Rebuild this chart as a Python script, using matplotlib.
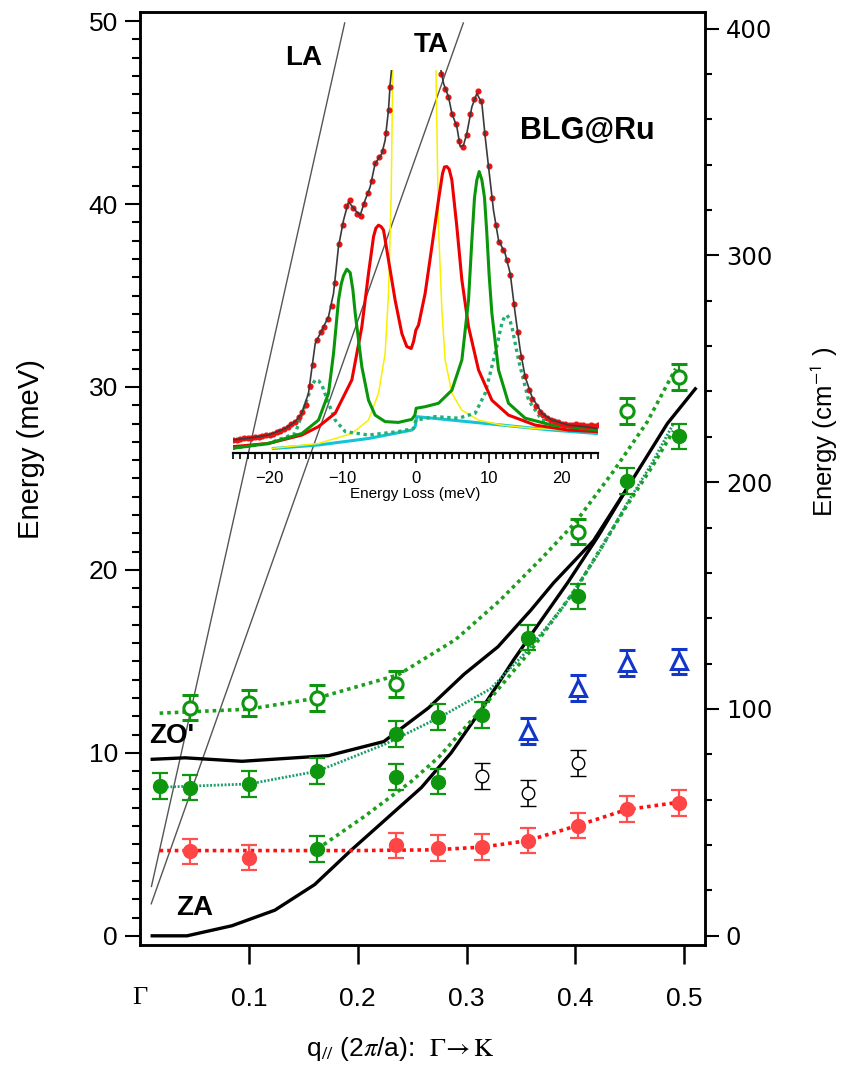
import matplotlib.pyplot as plt
import numpy as np
from matplotlib.ticker import MultipleLocator

plt.rcParams['font.family'] = ['Liberation Sans', 'DejaVu Sans']
plt.rcParams['mathtext.fontset'] = 'stix'

nan = np.nan
MEV_TO_CM = 8.0655
ERR = 0.7  # error bar half width (meV)

# ---------------- dispersion data, q in 2pi/a, E in meV ----------------
q_open = [0.046, 0.100, 0.163, 0.235, 0.402, 0.447, 0.495]
e_open = [12.48, 12.71, 12.99, 13.77, 22.1, 28.7, 30.55]

q_fill = [0.018, 0.046, 0.100, 0.163, 0.235, 0.274, 0.314, 0.356, 0.402, 0.447, 0.495]
e_fill = [8.2, 8.1, 8.29, 9.02, 11.04, 11.95, 12.08, 16.3, 18.55, 24.85, 27.3]

q_fill_low = [0.163, 0.235, 0.274]
e_fill_low = [4.74, 8.67, 8.43]

q_red = [0.046, 0.100, 0.235, 0.274, 0.314, 0.356, 0.402, 0.447, 0.495]
e_red = [4.61, 4.28, 4.94, 4.79, 4.85, 5.2, 6.03, 6.92, 7.25]

q_tri = [0.356, 0.402, 0.447, 0.495]
e_tri = [11.2, 13.55, 14.9, 15.0]

q_blk = [0.314, 0.356, 0.402]
e_blk = [8.75, 7.8, 9.45]

# guide-to-the-eye dotted curves
q_up_fit = [0.018, 0.100, 0.163, 0.237, 0.290, 0.330, 0.370, 0.400, 0.435, 0.466, 0.492]
e_up_fit = [12.17, 12.39, 13.0, 14.26, 16.2, 18.3, 20.7, 22.6, 25.4, 28.1, 31.0]

q_mid_fit = [0.018, 0.100, 0.163, 0.226, 0.277, 0.322, 0.356, 0.389, 0.420, 0.447, 0.470, 0.490]
e_mid_fit = [8.12, 8.3, 9.0, 10.5, 12.0, 13.5, 15.6, 18.0, 20.8, 23.6, 25.8, 28.0]

q_low_fit = [0.163, 0.206, 0.249, 0.275, 0.313, 0.359, 0.402, 0.447, 0.470, 0.490]
e_low_fit = [4.75, 6.52, 8.43, 9.8, 12.35, 15.6, 19.1, 23.5, 25.6, 27.6]

q_red_fit = [0.018, 0.100, 0.200, 0.270, 0.3145, 0.356, 0.402, 0.447, 0.495]
e_red_fit = [4.66, 4.66, 4.66, 4.7, 4.85, 5.2, 6.03, 6.9, 7.3]

# calculated branches
q_za = [0.0112, 0.0432, 0.0844, 0.1238, 0.1604, 0.1943, 0.2245, 0.2584, 0.2858, 0.3133,
        0.3434, 0.3562, 0.3928, 0.4204, 0.4478, 0.4844, 0.5101]
e_za = [0, 0, 0.55, 1.4, 2.8, 4.7, 6.3, 8.1, 10.0, 12.35, 15.1, 16.2, 19.3, 21.8, 24.5, 28.0, 29.9]

q_zo = [0.0112, 0.0414, 0.0937, 0.1732, 0.2240, 0.2648, 0.2977, 0.3288, 0.3590, 0.3800, 0.4166, 0.4478]
e_zo = [9.65, 9.73, 9.54, 9.85, 10.62, 12.45, 14.3, 15.8, 17.8, 19.3, 21.6, 24.5]

q_la = [0.0105, 0.188]
e_la = [2.7, 49.9]
q_ta = [0.0103, 0.297]
e_ta = [1.75, 49.9]

# ---------------- inset spectrum (energy loss in meV, intensity a.u.) ----------------
fit_x = [-25.16, -22.42, -20.14, -17.85, -16.48, -15.57, -14.66, -13.74, -12.83, -11.92, -11.23,
         -10.55, -9.86, -9.18, -8.26, -7.58, -6.89, -6.21, -5.53, -4.61, -4.16, -3.70, -3.47,
         -3.24, nan, 3.38, 3.84, 4.52, 4.98, 5.66, 6.12, 6.58, 7.03, 7.72, 8.40, 9.09, 9.54,
         10.0, 10.68, 11.37, 12.28, 12.97, 13.65, 14.34, 15.02, 15.94, 17.31, 18.68, 20.96,
         23.24, 24.84]
fit_y = [3.4, 4.0, 4.7, 6.4, 8.2, 10.4, 15.6, 28.6, 32.1, 35.6, 41.7, 53.9, 60.8, 65.6, 63.4,
         62.1, 66.1, 69.5, 75.6, 78.2, 81.7, 89.6, 96.5, 101, nan, 101, 96.5, 93.0, 88.7, 85.2,
         80.0, 80.4, 83.5, 90.4, 93.9, 91.3, 82.6, 74.8, 63.4, 55.6, 52.1, 46.9, 36.5, 26.9,
         19.9, 14.7, 10.4, 8.6, 7.3, 6.9, 6.4]

dots_x = [-25, -24.5, -24, -23.5, -23, -22.5, -22, -21.5, -21, -20.5, -20, -19.5, -19, -18.5,
          -18, -17.5, -17, -16.5, -16, -15.5, -15, -14.5, -14, -13.5, -13, -12.5, -12, -11.5,
          -11, -10.5, -10, -9.5, -9, -8.5, -8, -7.5, -7, -6.5, -6, -5.5, -5, -4.5, -4, -3.7,
          -3.5, 3.5, 4, 4.5, 5, 5.5, 6, 6.5, 7, 7.5, 8, 8.5, 9, 9.5, 10, 10.5, 11, 11.5, 12,
          12.5, 13, 13.5, 14, 14.5, 15, 15.5, 16, 16.5, 17, 17.5, 18, 18.5, 19, 19.5, 20, 20.5,
          21, 21.5, 22, 22.5, 23, 23.5, 24, 24.5, 25]
dots_y = [3.4, 3.5, 3.6, 3.8, 3.9, 4.0, 4.2, 4.3, 4.4, 4.6, 4.8, 5.1, 5.4, 5.8, 6.3, 6.9, 7.5,
          8.2, 9.3, 10.6, 12.6, 17.5, 23.0, 29.5, 31.5, 33.0, 35.0, 38.5, 44.5, 54.5, 59.5, 64.5,
          66.0, 64.0, 62.5, 61.8, 65.0, 67.8, 71.0, 75.8, 77.2, 78.8, 83.5, 89.5, 95.5, 99.0,
          95.0, 93.0, 88.5, 86.0, 81.5, 80.0, 83.0, 88.5, 92.5, 94.5, 92.0, 83.5, 75.0, 66.5,
          59.5, 55.0, 53.0, 50.5, 46.5, 39.0, 31.5, 25.0, 20.0, 16.5, 14.2, 12.3, 10.8, 9.9,
          9.2, 8.7, 8.3, 8.0, 7.7, 7.5, 7.4, 7.3, 7.5, 7.2, 7.4, 7.1, 7.3, 7.0, 7.2]

yel_x = [-19.68, -13.29, -8.72, -6.44, -5.07, -4.16, -3.70, -3.33, -3.11, nan,
         2.79, 3.15, 3.61, 4.06, 4.98, 6.35, 8.63, 11.83, 16.39, 24.84]
yel_y = [1.2, 2.5, 5.1, 8.6, 15.6, 26.0, 41.7, 67.8, 101, nan,
         101, 59.1, 37.3, 24.3, 15.6, 11.2, 8.6, 7.3, 6.4, 5.6]

red_x = [-25.16, -20.14, -15.57, -13.29, -11.0, -8.72, -7.35, -6.44, -5.75, -5.43, -5.07, -4.70,
         -4.38, -3.70, -2.79, -1.87, -1.19, -0.59, -0.27, 0.05, 0.41, 1.32, 2.24, 3.15, 3.70,
         3.97, 4.29, 4.61, 4.98, 5.66, 6.35, 7.26, 8.63, 10.46, 12.74, 16.39, 20.96, 24.84]
red_y = [1.65, 2.5, 4.7, 6.9, 10.4, 19.1, 33.0, 46.9, 56.5, 58.7, 59.5, 59.1, 58.2, 50.4, 39.9,
         31.2, 27.8, 27.3, 29.1, 32.1, 33.4, 41.7, 53.9, 66.1, 73.0, 74.7, 74.8, 74.1, 71.3,
         59.1, 45.2, 33.0, 21.7, 13.8, 9.9, 7.3, 6.0, 5.6]

grn_x = [-25.16, -20.14, -15.57, -13.29, -11.92, -11.23, -10.55, -10.18, -9.86, -9.41, -8.95,
         -8.58, -8.26, -7.35, -6.44, -5.53, -4.16, -2.33, -0.50, -0.09, 0.09, 1.32, 3.15, 4.98,
         6.35, 7.26, 7.72, 8.08, 8.40, 8.72, 9.09, 9.45, 9.77, 10.09, 10.46, 11.37, 12.74,
         15.02, 18.68, 24.84]
grn_y = [1.2, 2.5, 5.1, 8.6, 15.6, 26.0, 39.9, 44.1, 46.3, 48.0, 47.1, 42.6, 36.5, 22.5, 13.8,
         9.9, 8.2, 8.0, 8.8, 9.9, 11.7, 12.1, 13.0, 16.4, 24.3, 39.9, 55.6, 66.7, 71.3, 73.5,
         71.3, 66.7, 57.4, 46.3, 36.5, 21.7, 13.0, 9.1, 7.3, 6.0]

gdot_x = [-25.16, -20.14, -16.48, -14.89, -14.2, -13.74, -13.29, -12.83, -11.92, -11.0, -9.63,
          -6.44, -2.33, -0.27, 0.05, 2.69, 5.89, 8.17, 9.54, 10.91, 11.83, 12.19, 12.51, 12.83,
          13.20, 14.11, 15.48, 17.31, 20.96, 24.84]
gdot_y = [1.2, 2.5, 5.1, 13.8, 17.6, 19.1, 18.9, 17.8, 13.0, 8.6, 5.6, 4.7, 5.6, 6.4, 8.6,
          9.5, 9.1, 10.4, 15.6, 26.0, 33.9, 35.6, 36.0, 35.2, 33.0, 24.3, 13.8, 8.6, 6.9, 5.8]

cyan_x = [-19.45, -13.29, -6.44, -0.50, -0.05, 0.18, 4.98, 11.83, 18.68, 24.84]
cyan_y = [1.2, 2.1, 3.8, 6.0, 6.9, 9.5, 8.6, 7.3, 6.0, 5.1]

# ---------------- figure ----------------
fig = plt.figure(figsize=(8.43, 10.68), dpi=100)
ax = fig.add_axes([0.1661, 0.1152, 0.6702, 0.8736])

GREEN = '#0f960f'
ax.plot(q_la, e_la, color='#555555', lw=1.0, zorder=1)
ax.plot(q_ta, e_ta, color='#555555', lw=1.0, zorder=1)
ax.plot(q_za, e_za, color='black', lw=2.4, zorder=2)
ax.plot(q_zo, e_zo, color='black', lw=2.4, zorder=2)

ax.plot(q_up_fit, e_up_fit, color='#1e9e1e', lw=2.6, ls=(0, (1, 1.1)), zorder=3)
ax.plot(q_low_fit, e_low_fit, color='#1e9e1e', lw=2.6, ls=(0, (1, 1.1)), zorder=3)
ax.plot(q_mid_fit, e_mid_fit, color='#1b9e6a', lw=2.0, ls=(0, (0.7, 0.6)), zorder=3)
ax.plot(q_red_fit, e_red_fit, color='#ff1010', lw=2.6, ls=(0, (1, 1.1)), zorder=3)

eb = dict(capsize=5.5, elinewidth=1.6, capthick=1.6, ls='none', zorder=5)
ax.errorbar(q_open, e_open, yerr=ERR, marker='o', ms=9.5, mfc='white', mec=GREEN, mew=2.2,
            color=GREEN, **eb)
ax.errorbar(q_fill, e_fill, yerr=ERR, marker='o', ms=10, mfc=GREEN, mec=GREEN, color=GREEN, **eb)
ax.errorbar(q_fill_low, e_fill_low, yerr=ERR, marker='o', ms=10, mfc=GREEN, mec=GREEN,
            color=GREEN, **eb)
ax.errorbar(q_red, e_red, yerr=ERR, marker='o', ms=10, mfc='#ff4545', mec='#ff4545',
            color='#ff5050', **eb)
ax.errorbar(q_tri, e_tri, yerr=ERR, marker='^', ms=11, mfc='white', mec='#1236c8', mew=2.2,
            color='#1236c8', **eb)
ax.errorbar(q_blk, e_blk, yerr=ERR, marker='o', ms=9, mfc='white', mec='black', mew=1.0,
            color='black', **dict(eb, elinewidth=1.2, capthick=1.2))

ax.set_xlim(0.002, 0.519)
ax.set_ylim(-0.5, 50.5)

ax.text(0.150, 48.0, 'LA', fontsize=20, fontweight='bold', ha='center', va='center')
ax.text(0.2675, 48.7, 'TA', fontsize=20, fontweight='bold', ha='center', va='center')
ax.text(0.411, 44.0, 'BLG@Ru', fontsize=22, fontweight='bold', ha='center', va='center')
ax.text(0.0295, 10.9, "ZO'", fontsize=20, fontweight='bold', ha='center', va='center')
ax.text(0.0497, 1.5, 'ZA', fontsize=20, fontweight='bold', ha='center', va='center')

for sp in ax.spines.values():
    sp.set_linewidth(1.8)

ax.set_xticks([0, 0.1, 0.2, 0.3, 0.4, 0.5])
ax.set_xticklabels(['\u0393', '0.1', '0.2', '0.3', '0.4', '0.5'])
ax.get_xticklabels()[0].set_fontfamily('Liberation Serif')
ax.get_xticklabels()[0].set_fontsize(21)
ax.xaxis.get_major_ticks()[0].tick1line.set_visible(False)
ax.tick_params(axis='x', direction='out', length=14, width=1.8, labelsize=19, pad=16)
ax.yaxis.set_major_locator(MultipleLocator(10))
ax.yaxis.set_minor_locator(MultipleLocator(1))
ax.tick_params(axis='y', which='major', direction='out', length=11, width=1.5, labelsize=19, pad=5)
ax.tick_params(axis='y', which='minor', direction='out', length=6, width=1.5)

ax.set_ylabel('Energy (meV)', fontsize=21, va='center')
ax.yaxis.set_label_coords(-0.193, 0.532)
ax.set_xlabel(r'q$_{\mathsf{//}}$ (2$\pi$/a):  $\mathrm{\Gamma\!\rightarrow K}$', fontsize=19,
              va='center')
ax.xaxis.set_label_coords(0.46, -0.111)

ax2 = ax.twinx()
ax2.set_ylim(-0.5 * MEV_TO_CM, 50.5 * MEV_TO_CM)
ax2.yaxis.set_major_locator(MultipleLocator(100))
ax2.yaxis.set_minor_locator(MultipleLocator(20))
ax2.tick_params(axis='y', which='major', direction='out', length=10, width=1.5, labelsize=17.5,
                pad=5, labelfontfamily='DejaVu Sans')
ax2.tick_params(axis='y', which='minor', direction='out', length=5, width=1.5)
for sp in ax2.spines.values():
    sp.set_linewidth(1.8)
ax2.set_ylabel(r'Energy (cm$^{\mathsf{-1}}$ )', fontsize=18.5, va='center', rotation=90)
ax2.yaxis.set_label_coords(1.212, 0.55)

# ---------------- inset ----------------
ins = fig.add_axes([0.2764, 0.5758, 0.433, 0.3586], facecolor='none')
ins.plot(cyan_x, cyan_y, color='#12c4d6', lw=2.2)
ins.plot(yel_x, yel_y, color='#f8f000', lw=1.1)
ins.plot(gdot_x, gdot_y, color='#22b070', lw=2.4, ls=(0, (1, 1.1)))
ins.plot(red_x, red_y, color='#ee0000', lw=2.2)
ins.plot(grn_x, grn_y, color='#0a960a', lw=2.2)
ins.plot(dots_x, dots_y, ls='none', marker='o', ms=3.4, color='#ee1111')
ins.plot(fit_x, fit_y, color='#3a3a3a', lw=1.2)
ins.set_xlim(-25, 25)
ins.set_ylim(0, 100)
for s in ['left', 'top', 'right']:
    ins.spines[s].set_visible(False)
ins.spines['bottom'].set_linewidth(1.6)
ins.set_yticks([])
ins.xaxis.set_major_locator(MultipleLocator(10))
ins.xaxis.set_minor_locator(MultipleLocator(1))
ins.tick_params(axis='x', which='major', direction='out', length=7, width=1.2, labelsize=12, pad=6)
ins.tick_params(axis='x', which='minor', direction='out', length=4, width=1.2)
ins.set_xlabel('Energy Loss (meV)', fontsize=11, labelpad=1)

fig.savefig('out.png', dpi=100)
